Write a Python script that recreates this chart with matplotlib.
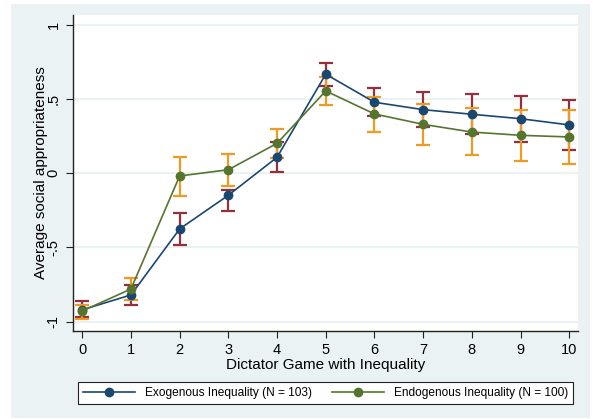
import matplotlib
matplotlib.use("Agg")
import matplotlib.pyplot as plt
from matplotlib.patches import Rectangle

plt.rcParams['font.family'] = ['Liberation Sans', 'DejaVu Sans']

games = [0, 1, 2, 3, 4, 5, 6, 7, 8, 9, 10]
exo_mean = [-0.92, -0.82, -0.375, -0.148, 0.108, 0.668, 0.479, 0.429, 0.398, 0.368, 0.326]
exo_lo = [-0.97, -0.886, -0.483, -0.252, 0.007, 0.589, 0.385, 0.312, 0.262, 0.209, 0.155]
exo_hi = [-0.86, -0.75, -0.27, -0.113, 0.21, 0.742, 0.573, 0.546, 0.535, 0.523, 0.494]
endo_mean = [-0.928, -0.78, -0.018, 0.024, 0.202, 0.555, 0.40, 0.33, 0.278, 0.256, 0.245]
endo_lo = [-0.985, -0.854, -0.151, -0.084, 0.103, 0.459, 0.278, 0.193, 0.123, 0.083, 0.065]
endo_hi = [-0.885, -0.704, 0.108, 0.13, 0.299, 0.651, 0.517, 0.467, 0.438, 0.429, 0.425]
yticks = [-1, -0.5, 0, 0.5, 1]
ytick_labels = ["-1", "-.5", "0", ".5", "1"]
legend_labels = ["Exogenous Inequality (N = 103)", "Endogenous Inequality (N = 100)"]

BG = '#eaf2f3'
BLUE = '#1a476f'
GREEN = '#55752f'
RED = '#962f3c'
ORANGE = '#ef9a23'

W, H = 596, 419
fig = plt.figure(figsize=(W / 100, H / 100), dpi=100)
fig.patch.set_facecolor('white')
bg = Rectangle((11 / W, 1 - 418 / H), (590 - 11) / W, (418 - 4) / H,
               transform=fig.transFigure, facecolor=BG, edgecolor='none', zorder=-5)
fig.patches.append(bg)

ax = fig.add_axes([73 / W, 1 - 331 / H, (578 - 73) / W, (331 - 15) / H])
ax.set_zorder(1)
ax.set_facecolor('white')
ax.set_xlim(-0.19, 10.18)
ax.set_ylim(-1.063, 1.067)

for y in yticks:
    ax.axhline(y, color=BG, lw=1.5, zorder=0)

def bars(lo, hi, color):
    mid = [(a + b) / 2 for a, b in zip(lo, hi)]
    err = [[m - a for m, a in zip(mid, lo)], [b - m for m, b in zip(mid, hi)]]
    ax.errorbar(games, mid, yerr=err, fmt='none', ecolor=color, elinewidth=1.6,
                capsize=5.2, capthick=1.6, zorder=2)

bars(exo_lo, exo_hi, RED)
bars(endo_lo, endo_hi, ORANGE)

ax.plot(games, exo_mean, '-o', color=BLUE, lw=1.2, ms=6, label=legend_labels[0], zorder=3)
ax.plot(games, endo_mean, '-o', color=GREEN, lw=1.2, ms=6, label=legend_labels[1], zorder=3)

for s in ['top', 'right']:
    ax.spines[s].set_visible(False)
for s in ['left', 'bottom']:
    ax.spines[s].set_color('#222222')
    ax.spines[s].set_linewidth(1.0)

ax.set_xticks(games)
ax.set_yticks(yticks)
ax.set_yticklabels(ytick_labels, rotation=90, va='center')
ax.tick_params(axis='both', direction='out', length=5, width=0.8, color='#222222',
               labelsize=10.5, pad=4)
ax.set_xlabel("Dictator Game with Inequality", fontsize=11, labelpad=0)
ax.set_ylabel("Average social appropriateness", fontsize=11, labelpad=-1)

leg = fig.legend(loc='center', ncol=2, mode='expand',
                 bbox_to_anchor=(78 / W, 1 - 407 / H, (573 - 78) / W, 28 / H),
                 fontsize=8.6, handlelength=4.4, frameon=True, fancybox=False,
                 framealpha=1, borderaxespad=0, columnspacing=2)
leg.get_frame().set_edgecolor('#222222')
leg.get_frame().set_linewidth(0.8)
leg.get_frame().set_facecolor('white')
leg.set_zorder(2)

fig.savefig('out.png', dpi=100, facecolor=fig.get_facecolor())
